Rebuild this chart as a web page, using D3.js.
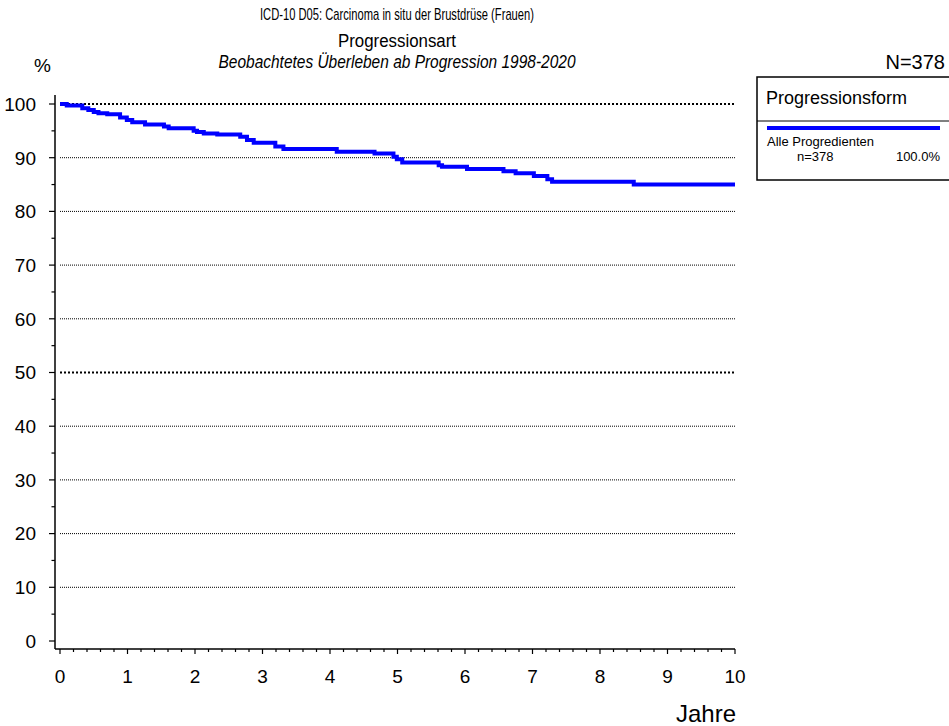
<!DOCTYPE html>
<html>
<head>
<meta charset="utf-8">
<script src="https://cdn.jsdelivr.net/npm/d3@7"></script>
<style>
  body { margin: 0; background: #fff; }
  svg { display: block; font-family: "Liberation Sans", Arial, sans-serif; }
</style>
</head>
<body>
<svg id="chart" width="949" height="726"></svg>
<script>
// ========= Data ========= //
const titleLines = [
  'ICD-10 D05: Carcinoma in situ der Brustdrüse (Frauen)',
  'Progressionsart',
  'Beobachtetes Überleben ab Progression 1998-2020'
];
const stepYears = [0, 0.10, 0.33, 0.42, 0.50, 0.57, 0.70, 0.89, 0.99, 1.07, 1.26, 1.54, 1.61,
  1.98, 2.03, 2.13, 2.33, 2.67, 2.77, 2.87, 3.19, 3.31, 4.10, 4.66, 4.94, 4.99, 5.07,
  5.61, 5.66, 6.03, 6.57, 6.75, 7.02, 7.22, 7.29, 8.50, 10];
const survival = [100, 99.7, 99.2, 98.9, 98.5, 98.3, 98.1, 97.5, 97.0, 96.6, 96.2, 95.8, 95.5,
  95.0, 94.8, 94.5, 94.3, 93.9, 93.3, 92.8, 92.1, 91.6, 91.1, 90.8, 90.2, 89.7, 89.1,
  88.6, 88.3, 87.9, 87.5, 87.1, 86.6, 86.0, 85.5, 85.0, 85.0];
const yTicks = [0, 10, 20, 30, 40, 50, 60, 70, 80, 90, 100];
const xTicks = [0, 1, 2, 3, 4, 5, 6, 7, 8, 9, 10];
const legendTitle = 'Progressionsform';
const legendGroup = 'Alle Progredienten';
const legendN = 'n=378';
const legendPct = '100.0%';
const totalN = 'N=378';

// ========= Setup ========= //
const svg = d3.select('#chart');
const x = d3.scaleLinear().domain([0, 10]).range([60, 735]);
const y = d3.scaleLinear().domain([0, 100]).range([641, 104]);

// ========= Titles ========= //
// condensed look of the original title, squeezed to its measured widths
const titleStyle = [
  { y: 20, size: 17, len: 274, italic: false },
  { y: 47, size: 18, len: 118, italic: false },
  { y: 68, size: 18, len: 357, italic: true }
];
svg.append('g').selectAll('text')
  .data(titleLines)
  .join('text')
    .attr('x', 397)
    .attr('y', (d, i) => titleStyle[i].y)
    .attr('text-anchor', 'middle')
    .attr('font-size', (d, i) => titleStyle[i].size + 'px')
    .attr('font-style', (d, i) => titleStyle[i].italic ? 'italic' : 'normal')
    .attr('textLength', (d, i) => titleStyle[i].len)
    .attr('lengthAdjust', 'spacingAndGlyphs')
    .text(d => d);
svg.append('text').attr('x', 34).attr('y', 72).attr('font-size', '19px').text('%');
svg.append('text').attr('x', 945).attr('y', 69).attr('text-anchor', 'end')
  .attr('font-size', '20px').text(totalN);

// ========= Grid ========= //
svg.append('g').attr('class', 'grid')
  .selectAll('line')
  .data(yTicks.filter(d => d > 0))
  .join('line')
    .attr('x1', x(0)).attr('x2', x(10))
    .attr('y1', d => y(d)).attr('y2', d => y(d))
    .attr('stroke', '#000')
    .attr('stroke-width', d => (d === 50 || d === 100) ? 2 : 1)
    .attr('stroke-dasharray', d => (d === 50 || d === 100) ? '2,2' : '1,1');

// ========= Axes ========= //
const yAxis = svg.append('g').attr('transform', 'translate(55,0)');
yAxis.append('line').attr('x1', 0).attr('x2', 0).attr('y1', 95).attr('y2', 649)
  .attr('stroke', '#000').attr('stroke-width', 1.5);
yAxis.selectAll('.minor')
  .data(d3.range(5, 100, 10))
  .join('line')
    .attr('x1', -3.5).attr('x2', 0)
    .attr('y1', d => y(d)).attr('y2', d => y(d))
    .attr('stroke', '#000').attr('stroke-width', 1.2);
yAxis.selectAll('.major')
  .data(yTicks)
  .join('line')
    .attr('x1', -6).attr('x2', 0)
    .attr('y1', d => y(d)).attr('y2', d => y(d))
    .attr('stroke', '#000').attr('stroke-width', 1.2);
yAxis.selectAll('text')
  .data(yTicks)
  .join('text')
    .attr('x', -19).attr('y', d => y(d))
    .attr('dy', '0.36em')
    .attr('text-anchor', 'end')
    .attr('font-size', '19px')
    .text(d => d);

const xAxis = svg.append('g').attr('transform', 'translate(0,649)');
xAxis.append('line').attr('x1', 55).attr('x2', x(10)).attr('y1', 0).attr('y2', 0)
  .attr('stroke', '#000').attr('stroke-width', 1.5);
xAxis.selectAll('.minor')
  .data(d3.range(0, 50).map(i => i * 0.2).filter((d, i) => i % 5 !== 0))
  .join('line')
    .attr('x1', d => x(d)).attr('x2', d => x(d))
    .attr('y1', 0).attr('y2', 3)
    .attr('stroke', '#000').attr('stroke-width', 1.2);
xAxis.selectAll('.major')
  .data(xTicks)
  .join('line')
    .attr('x1', d => x(d)).attr('x2', d => x(d))
    .attr('y1', 0).attr('y2', 5)
    .attr('stroke', '#000').attr('stroke-width', 1.2);
xAxis.selectAll('text')
  .data(xTicks)
  .join('text')
    .attr('x', d => x(d)).attr('y', 34)
    .attr('text-anchor', 'middle')
    .attr('font-size', '19px')
    .text(d => d);
svg.append('text').attr('x', 736).attr('y', 722).attr('text-anchor', 'end')
  .attr('font-size', '24px').text('Jahre');

// ========= Survival curve ========= //
const points = stepYears.map((t, i) => [t, survival[i]]);
svg.append('path')
  .datum(points)
  .attr('d', d3.line().x(d => x(d[0])).y(d => y(d[1])).curve(d3.curveStepAfter))
  .attr('fill', 'none')
  .attr('stroke', '#0000ff')
  .attr('stroke-width', 4);

// ========= Legend ========= //
const legend = svg.append('g');
legend.append('rect').attr('x', 757).attr('y', 77).attr('width', 200).attr('height', 103)
  .attr('fill', 'none').attr('stroke', '#000').attr('stroke-width', 1.5);
legend.append('line').attr('x1', 757).attr('x2', 957).attr('y1', 121).attr('y2', 121)
  .attr('stroke', '#000').attr('stroke-width', 1);
legend.append('text').attr('x', 766).attr('y', 104).attr('font-size', '18px').text(legendTitle);
legend.append('line').attr('x1', 767).attr('x2', 940).attr('y1', 128).attr('y2', 128)
  .attr('stroke', '#0000ff').attr('stroke-width', 4);
legend.append('text').attr('x', 767).attr('y', 146).attr('font-size', '13px').text(legendGroup);
legend.append('text').attr('x', 797).attr('y', 161).attr('font-size', '13px').text(legendN);
legend.append('text').attr('x', 940).attr('y', 161).attr('text-anchor', 'end')
  .attr('font-size', '13px').text(legendPct);
</script>
</body>
</html>
